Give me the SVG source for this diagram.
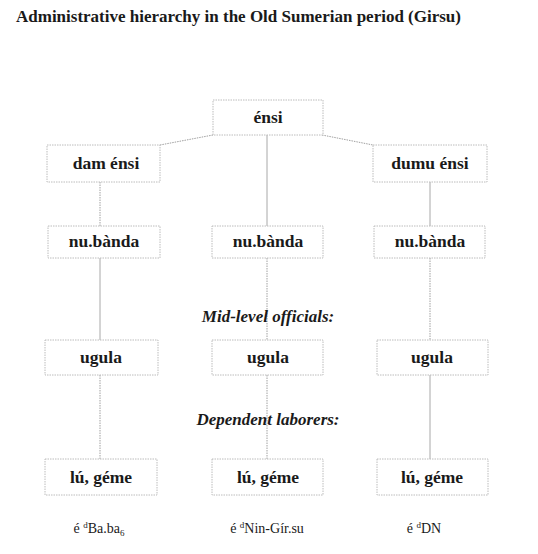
<svg xmlns="http://www.w3.org/2000/svg" width="538" height="554" viewBox="0 0 538 554">
<style>
.t{font-family:"Liberation Serif","DejaVu Serif",serif;fill:#1a1a1a}
.title{font-size:17px;font-weight:bold}
.n{font-size:17.5px;font-weight:bold;text-anchor:middle}
.lab{font-size:17px;font-weight:bold;font-style:italic;text-anchor:middle}
.foot{font-size:14px;text-anchor:middle}
.box{fill:#fff;stroke:#bcbcbc;stroke-width:1;stroke-dasharray:1.5 1}
.c{stroke:#a8a8a8;stroke-width:1;fill:none}
.cd{stroke:#a0a0a0;stroke-width:1;fill:none;stroke-dasharray:1.5 1}
</style>
<rect width="538" height="554" fill="#fff"/>
<text class="t title" x="16" y="22">Administrative hierarchy in the Old Sumerian period (Girsu)</text>

<g id="connectors">
<path class="cd" d="M213,135 L160,145"/>
<path class="cd" d="M322,135 L373,145"/>
<path class="c" d="M267,135 V226"/>
<path class="cd" d="M100,182 V226"/>
<path class="c" d="M430,182 V226"/>
<path class="c" d="M100,258 V340"/>
<path class="cd" d="M267,258 V340"/>
<path class="cd" d="M430,258 V340"/>
<path class="cd" d="M100,375 V459"/>
<path class="cd" d="M267,375 V459"/>
<path class="c" d="M430,375 V459"/>
</g>

<g id="ensi"><rect class="box" x="213" y="100" width="110" height="35"/><text class="t n" x="268" y="123">énsi</text></g>
<g id="dam-ensi"><rect class="box" x="47" y="145" width="113" height="37"/><text class="t n" x="106" y="169">dam énsi</text></g>
<g id="dumu-ensi"><rect class="box" x="373" y="145" width="114" height="37"/><text class="t n" x="430" y="169">dumu énsi</text></g>

<g id="nubanda-1"><rect class="box" x="48" y="226" width="112" height="32"/><text class="t n" x="104" y="247">nu.bànda</text></g>
<g id="nubanda-2"><rect class="box" x="212" y="226" width="111" height="32"/><text class="t n" x="268" y="247">nu.bànda</text></g>
<g id="nubanda-3"><rect class="box" x="374" y="226" width="111" height="32"/><text class="t n" x="430" y="247">nu.bànda</text></g>

<text class="t lab" x="268" y="322">Mid-level officials:</text>

<g id="ugula-1"><rect class="box" x="45" y="340" width="113" height="35"/><text class="t n" x="101" y="363">ugula</text></g>
<g id="ugula-2"><rect class="box" x="212" y="340" width="111" height="35"/><text class="t n" x="268" y="363">ugula</text></g>
<g id="ugula-3"><rect class="box" x="377" y="340" width="111" height="35"/><text class="t n" x="432" y="363">ugula</text></g>

<text class="t lab" x="268" y="425">Dependent laborers:</text>

<g id="lu-geme-1"><rect class="box" x="45" y="459" width="112" height="36"/><text class="t n" x="101" y="483">lú, géme</text></g>
<g id="lu-geme-2"><rect class="box" x="212" y="459" width="111" height="36"/><text class="t n" x="268" y="483">lú, géme</text></g>
<g id="lu-geme-3"><rect class="box" x="377" y="459" width="111" height="36"/><text class="t n" x="432" y="483">lú, géme</text></g>

<text class="t foot" x="99" y="533">é <tspan font-size="9" dy="-5">d</tspan><tspan dy="5">Ba.ba</tspan><tspan font-size="9" dy="3">6</tspan></text>
<text class="t foot" x="267" y="533">é <tspan font-size="9" dy="-5">d</tspan><tspan dy="5">Nin-Gír.su</tspan></text>
<text class="t foot" x="424" y="533">é <tspan font-size="9" dy="-5">d</tspan><tspan dy="5">DN</tspan></text>
</svg>
